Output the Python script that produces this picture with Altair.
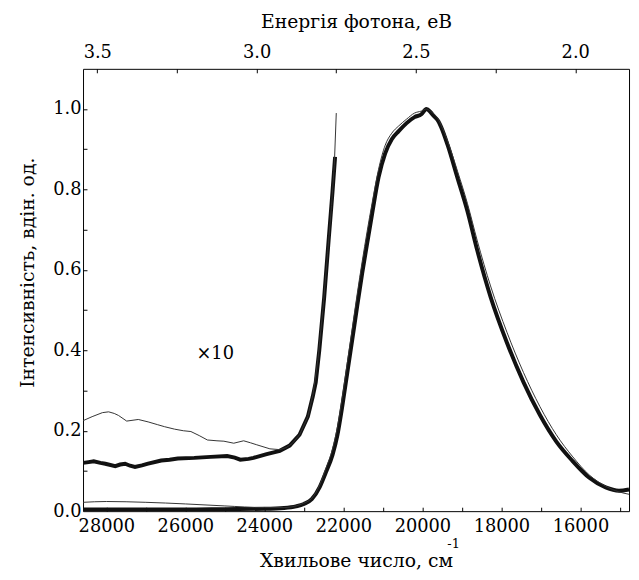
import altair as alt
import pandas as pd

EV_TO_WN = 8065.5
FONT = "'DejaVu Serif', serif"

# main band, thick line
thick_wn = [28590, 27000, 26000, 25000, 24000, 23500, 23200, 23000, 22800, 22600, 22450, 22275,
            22150, 22025, 21900, 21775, 21650, 21525, 21400, 21275, 21110, 20942, 20775, 20600,
            20400, 20200, 20025, 19900, 19800, 19735, 19600, 19525, 19360, 19110, 18860, 18610,
            18275, 17860, 17442, 17025, 16610, 16192, 15775, 15360, 15025, 14770]
thick_int = [0.004, 0.004, 0.004, 0.005, 0.006, 0.008, 0.012, 0.018, 0.03, 0.06, 0.095, 0.14,
             0.19, 0.263, 0.345, 0.427, 0.51, 0.591, 0.665, 0.738, 0.83, 0.89, 0.925, 0.945,
             0.965, 0.98, 0.987, 1.0, 0.993, 0.985, 0.97, 0.955, 0.91, 0.828, 0.746, 0.648,
             0.533, 0.419, 0.321, 0.239, 0.173, 0.124, 0.083, 0.059, 0.051, 0.054]

# main band, thin line
thin_wn = [28590, 28000, 27000, 26000, 25000, 24000, 23500, 23200, 23000, 22800, 22600, 22450,
           22275, 22150, 22025, 21900, 21775, 21650, 21525, 21400, 21275, 21110, 20942, 20775,
           20600, 20400, 20200, 20025, 19900, 19800, 19735, 19600, 19525, 19360, 19110, 18860,
           18610, 18275, 17860, 17442, 17025, 16610, 16192, 15775, 15360, 15025, 14770]
thin_int = [0.022, 0.024, 0.022, 0.018, 0.013, 0.009, 0.009, 0.013, 0.02, 0.032, 0.065, 0.105,
            0.155, 0.21, 0.285, 0.37, 0.455, 0.54, 0.62, 0.695, 0.765, 0.85, 0.91, 0.94,
            0.958, 0.975, 0.99, 0.995, 1.0, 0.995, 0.99, 0.975, 0.96, 0.92, 0.845, 0.765,
            0.672, 0.56, 0.445, 0.345, 0.26, 0.19, 0.135, 0.09, 0.062, 0.048, 0.042]

# x10 curves
thick10_wn = [28590, 28450, 28318, 28150, 28025, 27775, 27650, 27525, 27400, 27275, 27100, 26942,
              26610, 26400, 26192, 25775, 25360, 24942, 24750, 24610, 24400, 24275, 23942, 23610,
              23360, 23110, 22900, 22775, 22700, 22610, 22485, 22375, 22275, 22210]
thick10_int = [0.120, 0.122, 0.124, 0.120, 0.118, 0.112, 0.116, 0.118, 0.113, 0.110, 0.114, 0.118,
               0.126, 0.128, 0.131, 0.1325, 0.135, 0.137, 0.133, 0.128, 0.130, 0.1325, 0.142, 0.150,
               0.163, 0.19, 0.235, 0.285, 0.32, 0.40, 0.533, 0.672, 0.795, 0.881]

thin10_wn = [28590, 28360, 28100, 27942, 27800, 27692, 27485, 27192, 26942, 26700, 26525, 26275,
             26050, 25860, 25650, 25442, 25200, 25025, 24775, 24525, 24350, 24192, 23860, 23610,
             23450, 23300, 23110, 22900, 22770, 22640, 22520, 22400, 22300, 22230, 22180]
thin10_int = [0.225, 0.235, 0.245, 0.247, 0.243, 0.238, 0.224, 0.228, 0.222, 0.215, 0.21, 0.204,
              0.200, 0.198, 0.188, 0.177, 0.175, 0.174, 0.169, 0.175, 0.17, 0.165, 0.155, 0.153,
              0.158, 0.168, 0.19, 0.235, 0.29, 0.38, 0.5, 0.64, 0.76, 0.86, 0.99]

x_major = [28000, 26000, 24000, 22000, 20000, 18000, 16000]
x_minor = [27000, 25000, 23000, 21000, 19000, 17000, 15000]
y_major = [0.0, 0.2, 0.4, 0.6, 0.8, 1.0]
y_all = [0.1, 0.2, 0.3, 0.4, 0.5, 0.6, 0.7, 0.8, 0.9, 1.0]
ev_major = [3.5, 3.0, 2.5, 2.0]
ev_minor = [3.25, 2.75, 2.25]

note_wn = [25245]
note_v = [0.39]
note_text = ["×10"]

def df(wn, v):
    return pd.DataFrame({"wn": wn, "v": v})

W, H = 553, 448
xs = alt.Scale(domain=[14770, 28590], reverse=True, nice=False, zero=False)
ys = alt.Scale(domain=[0, 1.1], nice=False, zero=False)

common = dict(grid=False, labelFont=FONT, titleFont=FONT, labelColor="black",
              titleColor="black", tickColor="black", domain=False, labelFlush=False,
              labelOverlap=False, titleFontWeight="normal")

ax_bottom = alt.Axis(orient="bottom", values=x_major, format="d", ticks=False,
                     labelFontSize=18, labelPadding=7,
                     title="Хвильове число, см", titleFontSize=19,
                     titleBaseline="middle", titleY=50, **common)
ax_bottom_t = alt.Axis(orient="bottom", values=x_major + x_minor, labels=False,
                       tickSize=4, offset=-4, title=None, **common)
ax_top = alt.Axis(orient="top", values=[e * EV_TO_WN for e in ev_major],
                  labelExpr="format(datum.value / 8065.5, '.1f')", ticks=False,
                  labelFontSize=18, labelPadding=7,
                  title="Енергія фотона, еВ", titleFontSize=19,
                  titleBaseline="middle", titleY=-48, **common)
ax_top_t = alt.Axis(orient="top", values=[e * EV_TO_WN for e in ev_major + ev_minor],
                    labels=False, tickSize=4, offset=-4, title=None, **common)
ax_left = alt.Axis(orient="left", values=y_major, format=".1f", ticks=False,
                   labelFontSize=18, labelPadding=2,
                   title="Інтенсивність, вдін. од.", titleFontSize=19,
                   titleX=-56, titleY=206, titleBaseline="middle", **common)
ax_left_t = alt.Axis(orient="left", values=y_all, labels=False, tickSize=4, offset=-4,
                     title=None, **common)

thick_main = alt.Chart(df(thick_wn, thick_int)).mark_line(
    color="#111111", strokeWidth=4, clip=True, interpolate="monotone").encode(
    x=alt.X("wn:Q", scale=xs, axis=ax_bottom),
    y=alt.Y("v:Q", scale=ys, axis=ax_left))

thin_main = alt.Chart(df(thin_wn, thin_int)).mark_line(
    color="#333333", strokeWidth=1, clip=True, interpolate="monotone").encode(
    x=alt.X("wn:Q", scale=xs, axis=ax_bottom_t),
    y=alt.Y("v:Q", scale=ys, axis=ax_left_t))

thick10 = alt.Chart(df(thick10_wn, thick10_int)).mark_line(
    color="#111111", strokeWidth=4, clip=True).encode(
    x=alt.X("wn:Q", scale=xs, axis=ax_top),
    y=alt.Y("v:Q", scale=ys, axis=None))

thin10 = alt.Chart(df(thin10_wn, thin10_int)).mark_line(
    color="#333333", strokeWidth=1, clip=True).encode(
    x=alt.X("wn:Q", scale=xs, axis=ax_top_t),
    y=alt.Y("v:Q", scale=ys, axis=None))

note = alt.Chart(pd.DataFrame({"wn": note_wn, "v": note_v, "t": note_text})).mark_text(
    font=FONT, fontSize=18, color="black").encode(
    x=alt.X("wn:Q", scale=xs, axis=None),
    y=alt.Y("v:Q", scale=ys, axis=None),
    text="t:N")

sup = alt.Chart(pd.DataFrame({"t": ["-1"]})).mark_text(
    font=FONT, fontSize=13, color="black", align="left", baseline="middle").encode(
    x=alt.value(369), y=alt.value(481), text="t:N")

chart = alt.layer(thick_main, thin_main, thick10, thin10, note, sup).resolve_axis(
    x="independent", y="independent").properties(
    width=W, height=H,
    autosize=alt.AutoSizeParams(type="none"),
    padding={"left": 76, "top": 58, "right": 2, "bottom": 58},
    background="white").configure_view(stroke="black", strokeWidth=1)

chart.save("out.html", embed_options={"renderer": "svg", "actions": False})
